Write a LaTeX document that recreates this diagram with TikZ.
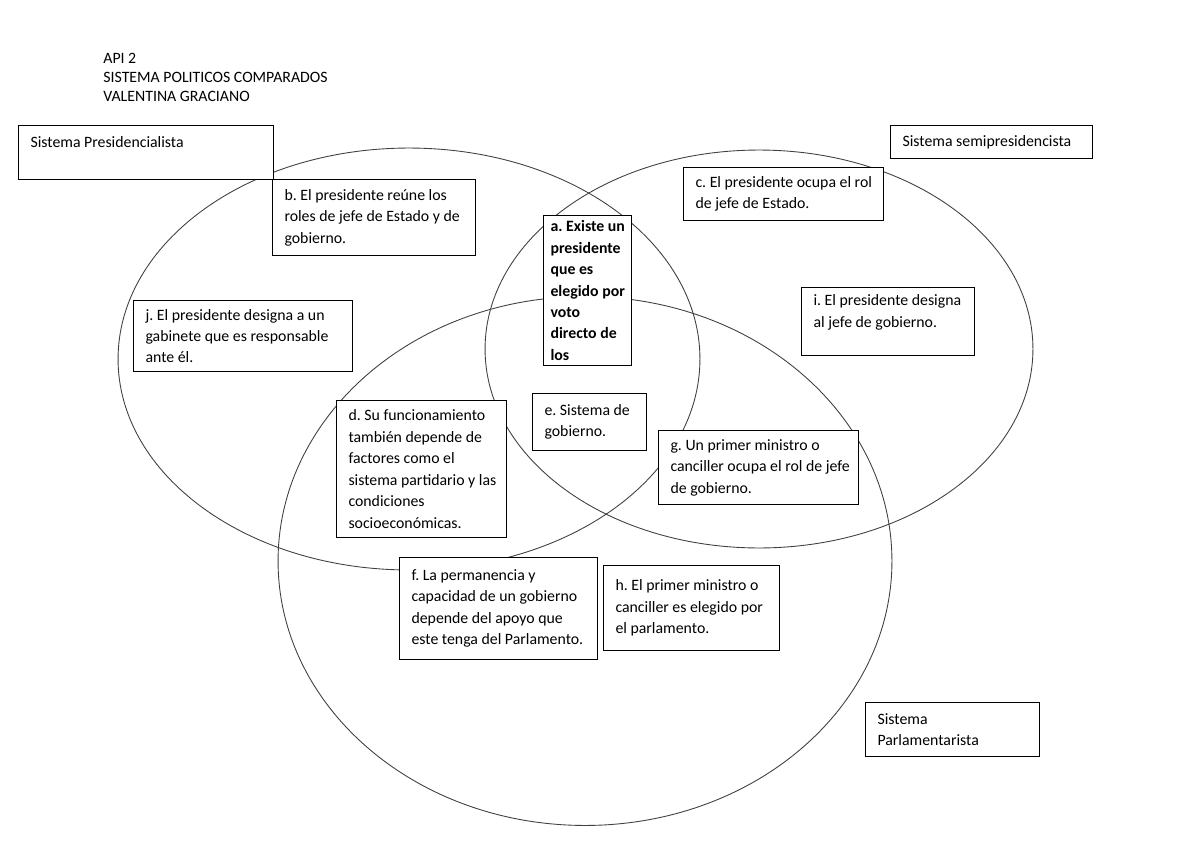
\documentclass[tikz,border=0pt]{standalone}
\usepackage{fontspec}
\setmainfont{Carlito}
\usetikzlibrary{positioning}
\frenchspacing

\begin{document}
\begin{tikzpicture}[
    x=0.02cm, y=-0.02cm,
    set/.style={draw=black!75, line width=0.5pt},
    box/.style={rectangle, draw, fill=white, line width=0.6pt, anchor=north west, align=flush left, inner xsep=0.1cm, inner ysep=0pt, font=\fontsize{9}{12.2}\selectfont, execute at begin node={\frenchspacing\leftskip=0.14cm}}
]
    \useasboundingbox[fill=white] (0,0) rectangle (1200,848);

    % Header
    \node[anchor=north west, align=left, inner sep=0pt, font=\fontsize{9}{10.8}\selectfont] (title) at (103,53) {API 2\\SISTEMA POLITICOS COMPARADOS\\VALENTINA GRACIANO};

    % Sets
    \draw[set] (409,359) ellipse [x radius=5.82cm, y radius=4.22cm];
    \draw[set] (759,349) ellipse [x radius=5.48cm, y radius=3.98cm];
    \draw[set] (585,561) ellipse [x radius=6.14cm, y radius=5.29cm];

    % Set names
    \node[box, minimum width=5.10cm, minimum height=1.08cm, text width=4.90cm] (pres) at (18,125) {Sistema Presidencialista\\ ~};
    \node[box, minimum width=4.04cm, minimum height=0.66cm, text width=3.84cm] (semi) at (890,125) {Sistema semipresidencista};
    \node[box, minimum width=3.48cm, minimum height=1.08cm, text width=3.28cm] (parl) at (865,702) {Sistema\\Parlamentarista};

    % Statements
    \node[box, minimum width=4.06cm, minimum height=1.52cm, text width=3.86cm] (b) at (272,179) {b. El presidente reúne los\\roles de jefe de Estado y de\\gobierno.};
    \node[box, minimum width=1.76cm, minimum height=3.00cm, text width=1.56cm, font=\fontsize{9}{12.2}\selectfont\bfseries, execute at begin node={\leftskip=0.04cm}] (a) at (543,215) {a. Existe un\\presidente\\que es\\elegido por\\voto\\directo de\\los};
    \node[box, minimum width=4.00cm, minimum height=1.06cm, text width=3.80cm] (c) at (683,167) {c. El presidente ocupa el rol\\de jefe de Estado.};
    \node[box, minimum width=3.46cm, minimum height=1.36cm, text width=3.26cm] (i) at (801,287) {i. El presidente designa\\al jefe de gobierno.\\ ~};
    \node[box, minimum width=4.38cm, minimum height=1.42cm, text width=4.18cm] (j) at (133,300) {j. El presidente designa a un\\gabinete que es responsable\\ante él.};
    \node[box, minimum width=3.40cm, minimum height=2.74cm, text width=3.20cm] (d) at (336,400) {d. Su funcionamiento\\también depende de\\factores como el\\sistema partidario y las\\condiciones\\socioeconómicas.};
    \node[box, minimum width=2.28cm, minimum height=1.14cm, text width=2.08cm] (e) at (532,393) {e. Sistema de\\gobierno.};
    \node[box, minimum width=4.00cm, minimum height=1.48cm, text width=3.80cm] (g) at (658,430) {g. Un primer ministro o\\canciller ocupa el rol de jefe\\de gobierno.};
    \node[box, minimum width=3.96cm, minimum height=2.04cm, text width=3.76cm] (f) at (399,557) {f. La permanencia y\\capacidad de un gobierno\\depende del apoyo que\\este tenga del Parlamento.};
    \node[box, minimum width=3.52cm, minimum height=1.70cm, text width=3.32cm] (h) at (603,565) {h. El primer ministro o\\canciller es elegido por\\el parlamento.};

\end{tikzpicture}
\end{document}
